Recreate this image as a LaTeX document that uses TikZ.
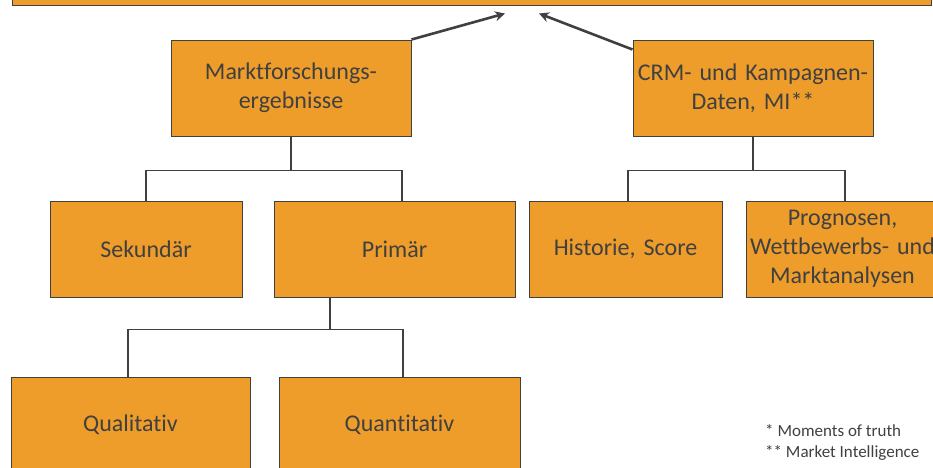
\documentclass[tikz,border=0pt]{standalone}
\usepackage{fontspec}
\setmainfont[Ligatures=NoCommon]{Carlito}
\usepackage{xcolor}
\usetikzlibrary{arrows.meta}
\definecolor{boxorange}{RGB}{238,157,43}
\definecolor{darkgrey}{RGB}{64,64,64}
\frenchspacing

\begin{document}
\begin{tikzpicture}[x=1pt,y=-1pt,
  box/.style={draw=darkgrey,line width=1pt,fill=boxorange,text=darkgrey,
    font=\fontsize{24}{29}\selectfont,align=center,inner sep=2pt,minimum height=96pt},
  link/.style={draw=darkgrey,line width=1.2pt},
  pointer/.style={draw=darkgrey,line width=2.6pt,-{Stealth[length=10pt,width=10pt]}}]
        \useasboundingbox (0,0) rectangle (933,467);
        \clip (0,0) rectangle (933,467);

        \node[box,minimum height=40pt,text width=915pt] (top) at (471.5,-15) {};

        \node[box,text width=236pt] (markt) at (291,88) {Marktforschungs-\\ergebnisse};
        \node[box,text width=236pt] (crm) at (753,88) {CRM- und Kampagnen-\\Daten, MI**};

        \node[box,text width=188pt] (sek) at (146,249) {Sekundär};
        \node[box,text width=237pt] (prim) at (394.5,249) {Primär};
        \node[box,text width=189pt] (hist) at (625.5,249) {Historie, Score};
        \node[box,text width=189pt] (prog) at (842.5,249) {Prognosen,\\Wettbewerbs- und\\Marktanalysen};

        \node[box,text width=235pt] (qual) at (130.5,425) {Qualitativ};
        \node[box,text width=237pt] (quant) at (399.5,425) {Quantitativ};

        \node[anchor=west,align=left,text=darkgrey,inner sep=0pt,
          font=\fontsize{17}{21}\selectfont] (note) at (765,442.5)
          {* Moments of truth\\** Market Intelligence};

        \draw[link] (markt.south) -- +(0,34) -| (sek.north);
        \draw[link] (markt.south) -- +(0,34) -| ([xshift=7.5pt]prim.north);
        \draw[link] (crm.south) -- +(0,34) -| ([xshift=2.5pt]hist.north);
        \draw[link] (crm.south) -- +(0,34) -| ([xshift=2.5pt]prog.north);
        \draw[link] ([xshift=-64.5pt]prim.south) -- +(0,32) -| ([xshift=-2.5pt]qual.north);
        \draw[link] ([xshift=-64.5pt]prim.south) -- +(0,32) -| ([xshift=3.5pt]quant.north);

        \coordinate (tipL) at ([xshift=33.5pt,yshift=-8pt]top.south);
        \coordinate (tipR) at ([xshift=67.5pt,yshift=-8pt]top.south);
        \draw[pointer] (markt.north east) -- (tipL);
        \draw[pointer] ([yshift=-10pt]crm.north west) -- (tipR);
      \end{tikzpicture}
\end{document}
